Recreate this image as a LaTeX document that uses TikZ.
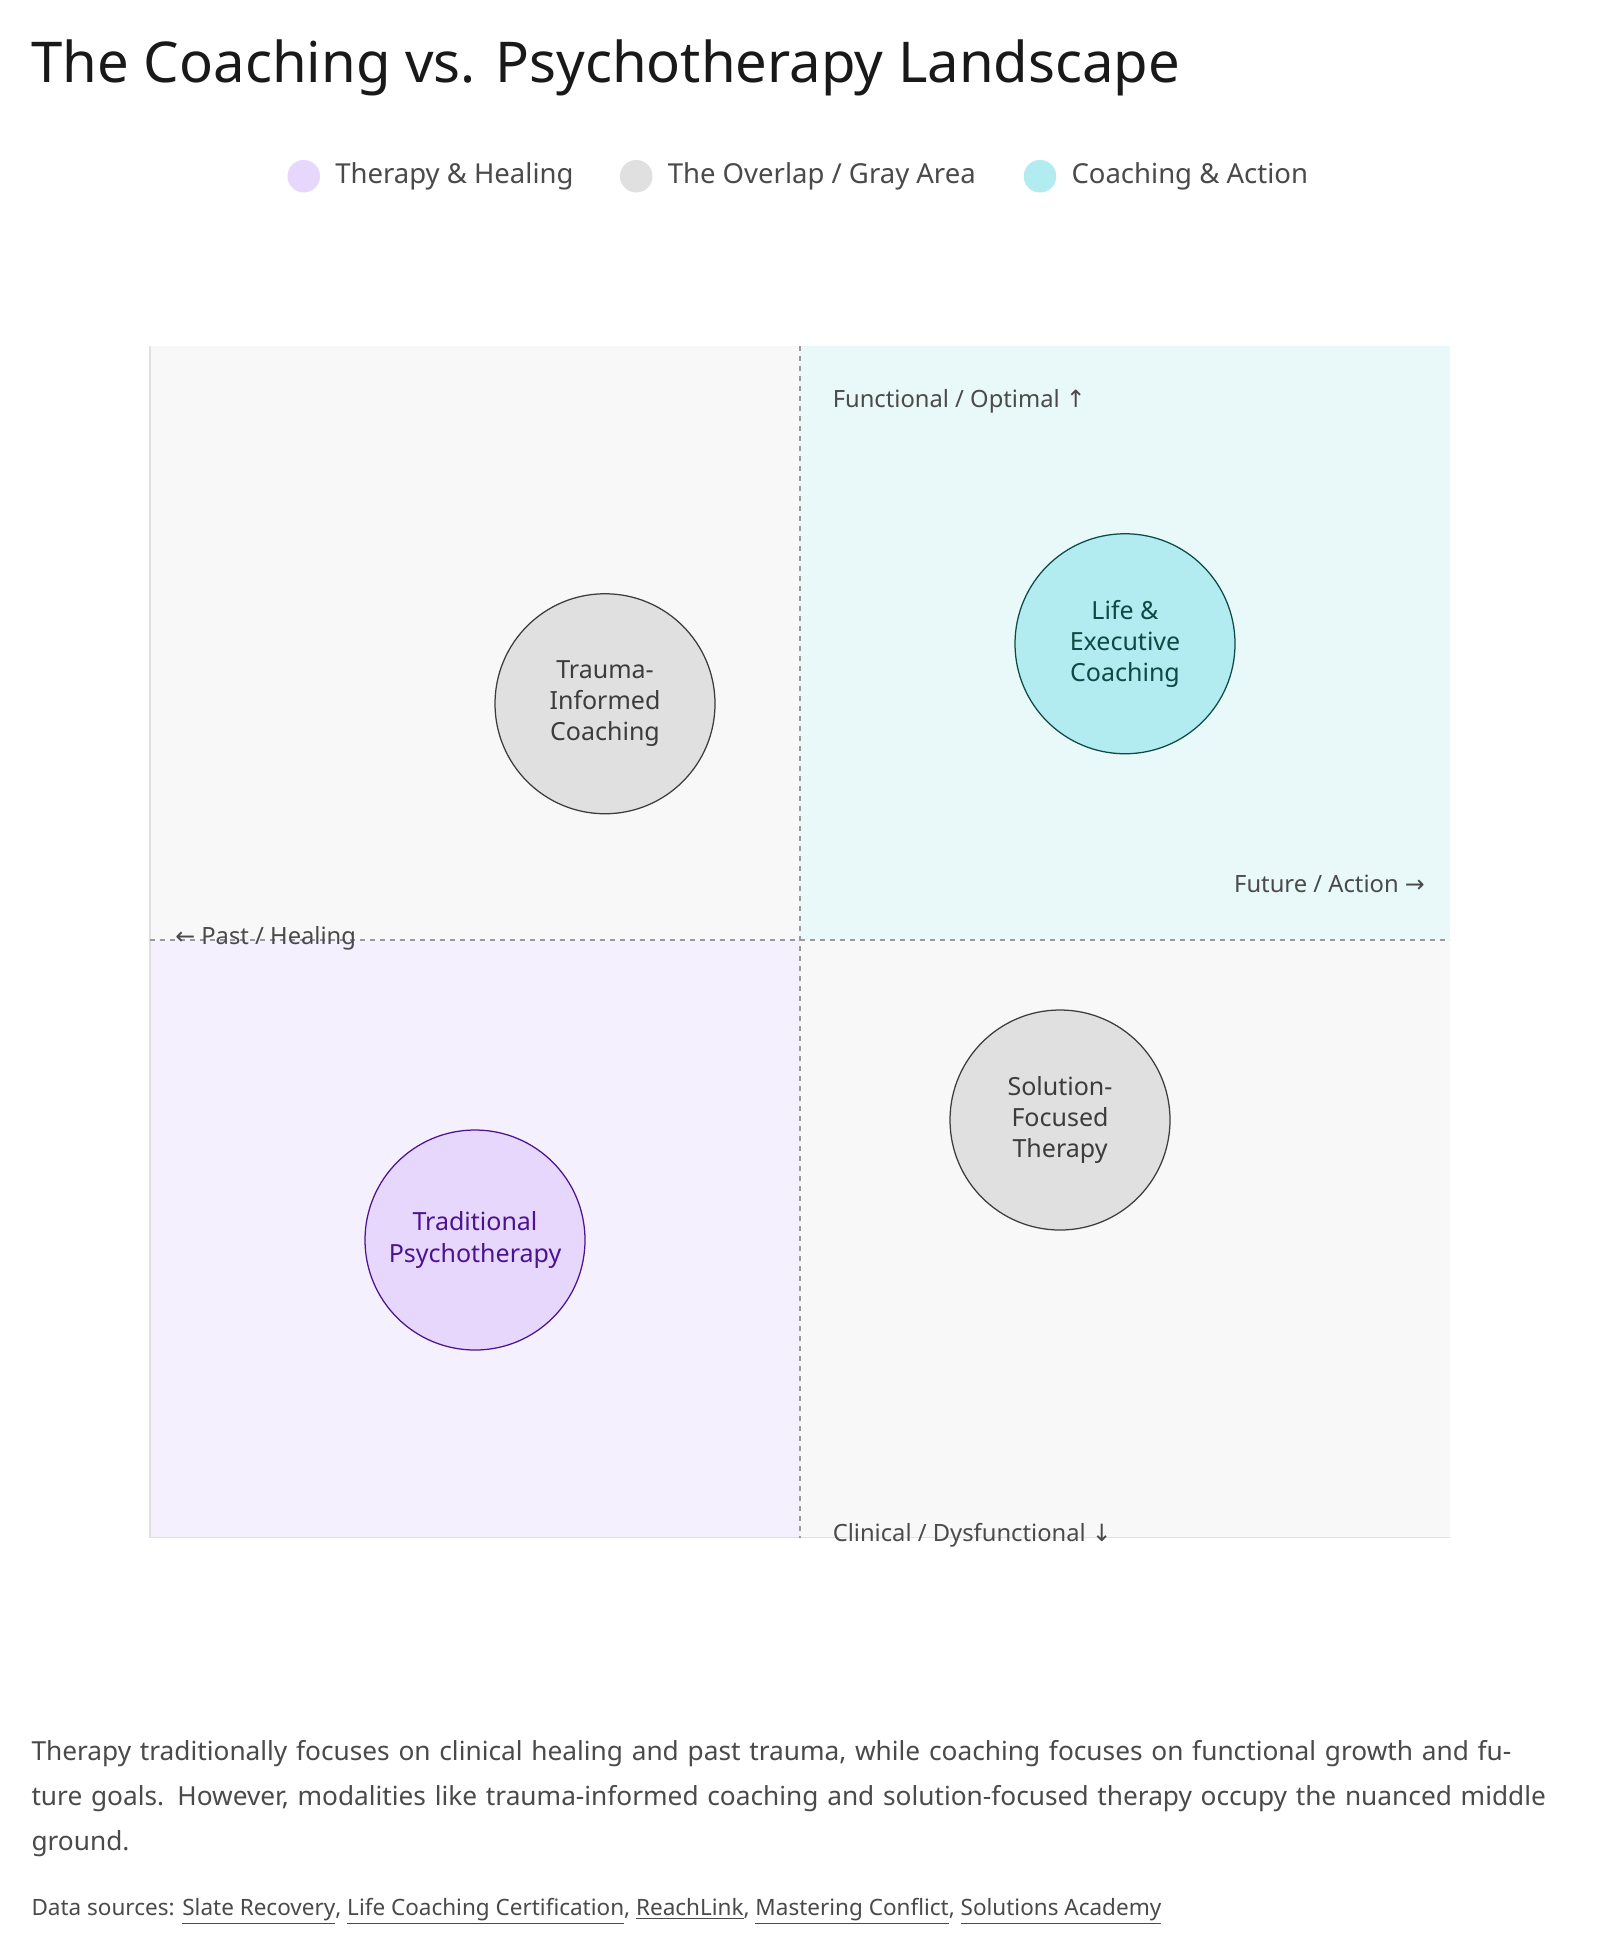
\documentclass[tikz,border=0pt]{standalone}
\usepackage{fontspec}
\setmainfont{Noto Sans}
\newfontfamily\arrowfont{DejaVu Sans}
\definecolor{cyanbg}{HTML}{E9F8F9}
\definecolor{lavbg}{HTML}{F5F0FD}
\definecolor{graybg}{HTML}{F8F8F8}
\definecolor{cyanc}{HTML}{B2EBF0}
\definecolor{cyand}{HTML}{0B4A45}
\definecolor{lavc}{HTML}{E8D7FC}
\definecolor{lavd}{HTML}{4A1490}
\definecolor{grayc}{HTML}{E0E0E0}
\definecolor{grayd}{HTML}{3C3C3C}
\definecolor{txt}{HTML}{4A4A4A}
\tikzset{
 bub/.style={circle,minimum size=176pt,inner sep=0pt,align=center,font=\fontsize{20}{25}\selectfont\bfseries,line width=1pt},
 axl/.style={font=\fontsize{19}{22}\selectfont,text=txt,inner sep=0pt},
 leg/.style={font=\fontsize{22}{26}\selectfont,text=txt,anchor=west,inner sep=0pt}
}
\begin{document}
\begin{tikzpicture}[x=1pt,y=-1pt]
\useasboundingbox[fill=white] (0,0) rectangle (1280,1568);
\node[anchor=west,font=\fontsize{45}{50}\selectfont,text=black!90,inner sep=0pt] (title) at (25,54) {The Coaching vs. Psychotherapy Landscape};
% legend
\fill[lavc] (243,141) circle (13);
\node[leg] (l1) at (268,141) {Therapy \& Healing};
\fill[grayc] (509,141) circle (13);
\node[leg] (l2) at (534,141) {The Overlap / Gray Area};
\fill[cyanc] (832,141) circle (13);
\node[leg] (l3) at (857,141) {Coaching \& Action};
% quadrants
\fill[graybg] (120,277) rectangle (640,752);
\fill[cyanbg] (640,277) rectangle (1160,752);
\fill[lavbg] (120,752) rectangle (640,1230);
\fill[graybg] (640,752) rectangle (1160,1230);
\draw[black!12,line width=1pt] (120,277) -- (120,1230) -- (1160,1230);
\draw[black!40,dashed,line width=2pt,dash pattern=on 4pt off 4pt] (640,277) -- (640,1230);
\draw[black!40,dashed,line width=2pt,dash pattern=on 4pt off 4pt] (120,752) -- (1160,752);
% axis labels
\node[axl,anchor=west] (fo) at (666,321) {Functional / Optimal {\arrowfont ↑}};
\node[axl,anchor=east] (fa) at (1140,707) {Future / Action {\arrowfont →}};
\node[axl,anchor=west] (ph) at (140,751) {{\arrowfont ←} Past / Healing};
\node[axl,anchor=west] (cd) at (666,1228) {Clinical / Dysfunctional {\arrowfont ↓}};
% bubbles
\node[bub,fill=grayc,draw=grayd,text=grayd] (tic) at (484,563) {Trauma-\\Informed\\Coaching};
\node[bub,fill=cyanc,draw=cyand,text=cyand] (lec) at (900,515) {Life \&\\Executive\\Coaching};
\node[bub,fill=grayc,draw=grayd,text=grayd] (sft) at (848,896) {Solution-\\Focused\\Therapy};
\node[bub,fill=lavc,draw=lavd,text=lavd] (tp) at (380,992) {Traditional\\Psychotherapy};
% caption
\node[anchor=north west,align=left,text width=1220pt,font=\fontsize{21}{36}\selectfont,text=txt,inner sep=0pt] (cap) at (25,1392) {Therapy traditionally focuses on clinical healing and past trauma, while coaching focuses on functional growth and future goals. However, modalities like trauma-informed coaching and solution-focused therapy occupy the nuanced middle ground.};
\node[anchor=west,font=\fontsize{18}{22}\selectfont,text=txt,inner sep=0pt] (src) at (25,1529) {Data sources: \underline{Slate Recovery}, \underline{Life Coaching Certification}, \underline{ReachLink}, \underline{Mastering Conflict}, \underline{Solutions Academy}};
\end{tikzpicture}
\end{document}
